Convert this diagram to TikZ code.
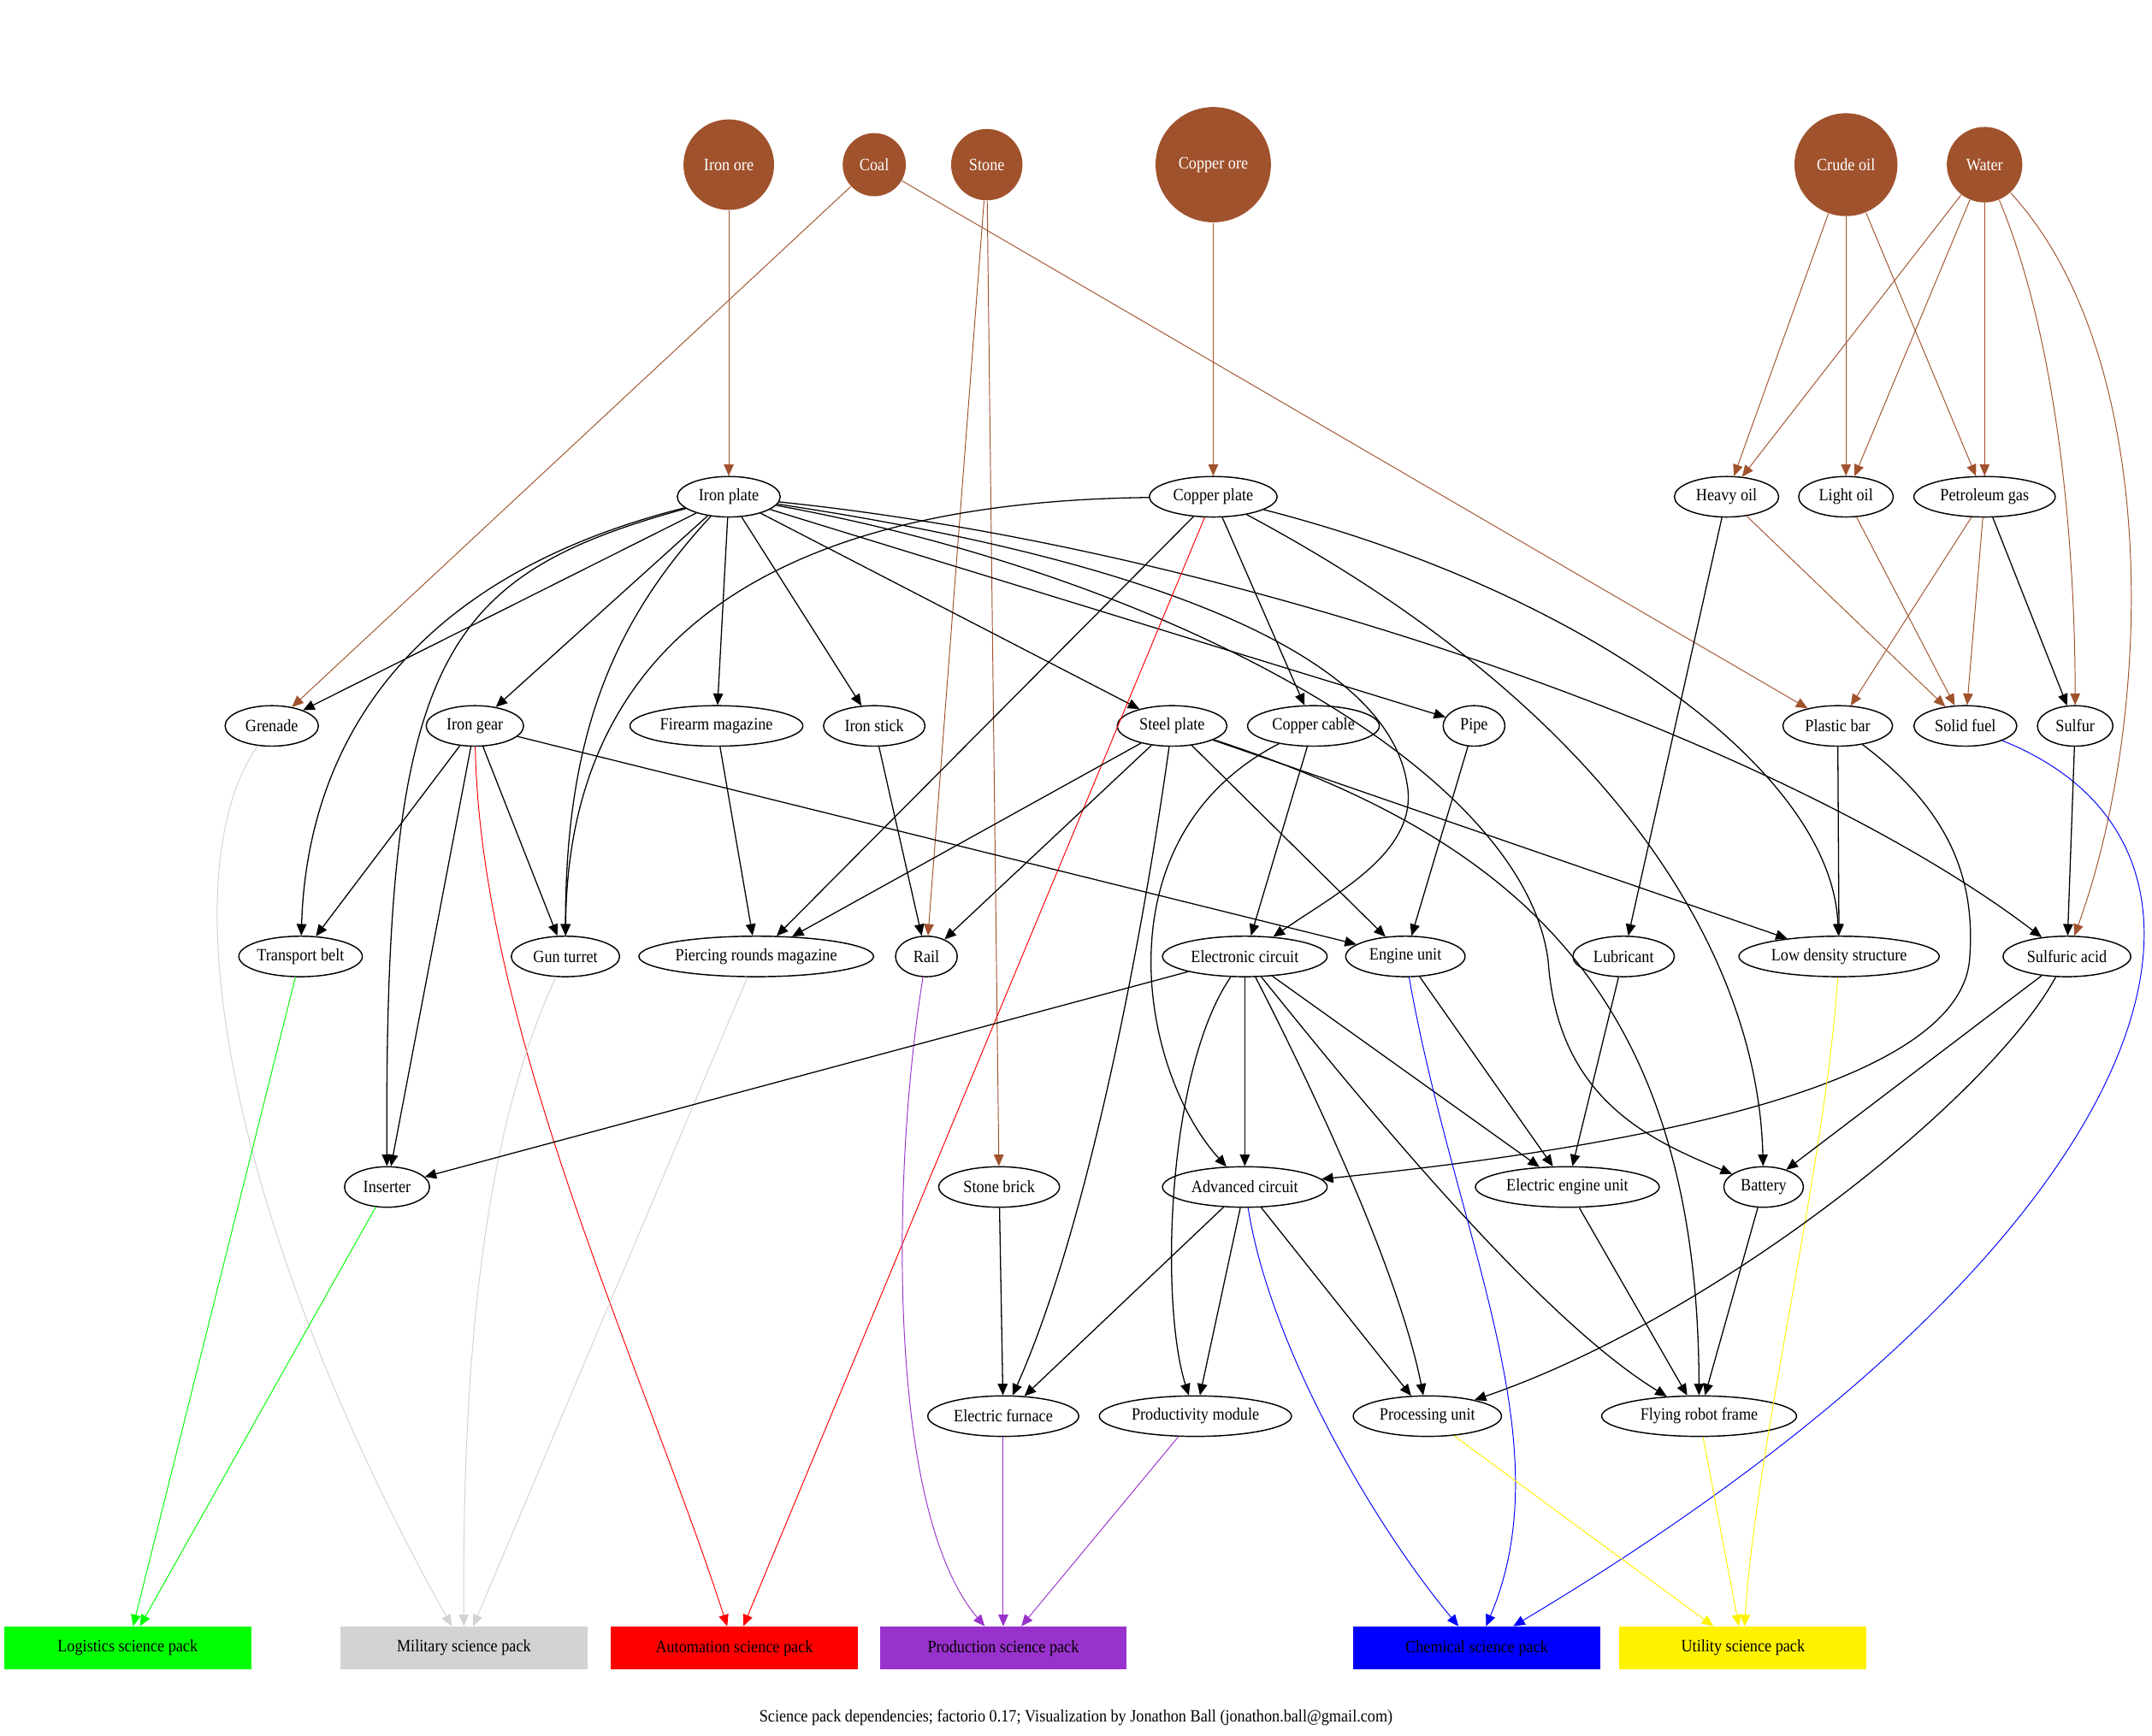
\documentclass[tikz,border=0pt]{standalone}
\usepackage{fontspec}
\setmainfont{Liberation Serif}[FakeStretch=0.9]
\usetikzlibrary{shapes.geometric}
\usetikzlibrary{arrows.meta}

\definecolor{sienna}{HTML}{A0522D}
\definecolor{orchid}{HTML}{9932CC}
\definecolor{lgray}{HTML}{D3D3D3}

\begin{document}
\begin{tikzpicture}[x=0.5pt, y=-0.5pt,
    every node/.style={font=\fontsize{6.3}{7.5}\selectfont},
    raw/.style={circle, fill=sienna, text=white, inner sep=0pt},
    item/.style={ellipse, draw=black, line width=0.45pt, minimum height=14.75pt, inner sep=0pt},
    pack/.style={rectangle, minimum width=90pt, minimum height=15.5pt, inner sep=0pt},
    >={Triangle[length=4.2pt, width=3.6pt]},
    link/.style={->, line width=0.4pt},
    ore/.style={link, sienna, line width=0.3pt},
    tint/.style={link, line width=0.3pt, #1}]

        \useasboundingbox (0,0) rectangle (1568,1265);

        % Row heights
        \def\yraw{120}
        \def\yone{362}
        \def\ytwo{529}
        \def\ythree{697}
        \def\yfour{865}
        \def\yfive{1032}
        \def\ypack{1201}

        % Raw resources
        \foreach \name/\x/\dia/\txt in {ironore/531/33pt/Iron ore, coal/637/23pt/Coal, stone/719/26pt/Stone, copperore/884/42pt/Copper ore, crudeoil/1345/37.5pt/Crude oil, water/1446/27.5pt/Water} {
          \node[raw, minimum size=\dia] (\name) at (\x, \yraw) {\txt};
        }

        % Plates and oils
        \foreach \name/\x/\w/\txt in {ironplate/531/37.5pt/Iron plate, copperplate/884/46.5pt/Copper plate, heavyoil/1258/38pt/Heavy oil, lightoil/1345/34.5pt/Light oil, petroleumgas/1446/51.5pt/Petroleum gas} {
          \node[item, minimum width=\w] (\name) at (\x, \yone) {\txt};
        }

        % Second row of intermediates
        \foreach \name/\x/\w/\txt in {grenade/198/34pt/Grenade, irongear/346/35.5pt/Iron gear, firearmmag/522/63pt/Firearm magazine, ironstick/637/37pt/Iron stick, steelplate/854/40pt/Steel plate, coppercable/957/48pt/Copper cable, pipe/1074/22.5pt/Pipe, plasticbar/1339/40pt/Plastic bar, solidfuel/1432/37.5pt/Solid fuel, sulfur/1512/27.5pt/Sulfur} {
          \node[item, minimum width=\w] (\name) at (\x, \ytwo) {\txt};
        }

        % Third row
        \foreach \name/\x/\w/\txt in {transportbelt/219/45pt/Transport belt, gunturret/412/39.5pt/Gun turret, piercingmag/551/85.5pt/Piercing rounds magazine, rail/675/22.5pt/Rail, electroniccircuit/907/60pt/Electronic circuit, engineunit/1024/43.5pt/Engine unit, lubricant/1183/37pt/Lubricant, lowdensity/1340/73pt/Low density structure, sulfuricacid/1506/46.5pt/Sulfuric acid} {
          \node[item, minimum width=\w] (\name) at (\x, \ythree) {\txt};
        }

        % Fourth row
        \foreach \name/\x/\w/\txt in {inserter/282/31pt/Inserter, stonebrick/728/44pt/Stone brick, advancedcircuit/907/60pt/Advanced circuit, electricengine/1142/67pt/Electric engine unit, battery/1285/29pt/Battery} {
          \node[item, minimum width=\w] (\name) at (\x, \yfour) {\txt};
        }

        % Fifth row
        \foreach \name/\x/\w/\txt in {electricfurnace/731/55pt/Electric furnace, productivity/871/70pt/Productivity module, processingunit/1040/54pt/Processing unit, flyingrobot/1238/71pt/Flying robot frame} {
          \node[item, minimum width=\w] (\name) at (\x, \yfive) {\txt};
        }

        % Science packs
        \foreach \name/\x/\col/\txt in {logistics/93/green/Logistics science pack, military/338/lgray/Military science pack, automation/535/red/Automation science pack, production/731/orchid/Production science pack, chemical/1076/blue/Chemical science pack, utility/1270/yellow/Utility science pack} {
          \node[pack, fill=\col] (\name) at (\x, \ypack) {\txt};
        }

        \node (caption) at (784,1252) {Science pack dependencies; factorio 0.17; Visualization by Jonathon Ball (jonathon.ball@gmail.com)};

        % Raw resources into plates and oils
        \draw[ore] (ironore) -- (ironplate);
        \draw[ore] (coal) -- (grenade);
        \draw[ore] (coal) -- (plasticbar);
        \draw[ore] (stone) -- (rail);
        \draw[ore] (stone) -- (stonebrick);
        \draw[ore] (copperore) -- (copperplate);
        \foreach \tgt in {heavyoil, lightoil, petroleumgas} {
          \draw[ore] (crudeoil) -- (\tgt);
          \draw[ore] (water) -- (\tgt);
        }
        \draw[ore] (water) .. controls (1500,250) and (1512,400) .. (sulfur);
        \draw[ore] (water) .. controls (1575,260) and (1570,520) .. (sulfuricacid);

        % Oil products
        \draw[ore] (heavyoil) -- (solidfuel);
        \draw[ore] (lightoil) -- (solidfuel);
        \draw[ore] (petroleumgas) -- (plasticbar);
        \draw[ore] (petroleumgas) -- (solidfuel);
        \draw[link] (petroleumgas) -- (sulfur);
        \draw[link] (heavyoil) -- (lubricant);

        % Iron plate
        \draw[link] (ironplate) -- (grenade);
        \draw[link] (ironplate) .. controls (300,420) and (224,540) .. (transportbelt);
        \draw[link] (ironplate) .. controls (320,420) and (280,480) .. (inserter);
        \draw[link] (ironplate) -- (irongear);
        \draw[link] (ironplate) .. controls (450,450) and (412,530) .. (gunturret);
        \draw[link] (ironplate) -- (firearmmag);
        \draw[link] (ironplate) -- (ironstick);
        \draw[link] (ironplate) -- (steelplate);
        \draw[link] (ironplate) -- (pipe);
        \draw[link] (ironplate) .. controls (850,410) and (1010,480) .. (1025,570) .. controls (1035,620) and (975,650) .. (electroniccircuit);
        \draw[link] (ironplate) .. controls (850,420) and (1110,560) .. (1128,700) .. controls (1135,800) and (1200,830) .. (battery);
        \draw[link] (ironplate) .. controls (900,400) and (1300,540) .. (sulfuricacid);

        % Copper plate
        \draw[link] (copperplate) .. controls (620,365) and (414,430) .. (gunturret);
        \draw[link] (copperplate) -- (piercingmag);
        \draw[tint=red] (copperplate) -- (automation);
        \draw[link] (copperplate) -- (coppercable);
        \draw[link] (copperplate) .. controls (1180,520) and (1281,700) .. (battery);
        \draw[link] (copperplate) .. controls (1150,430) and (1335,560) .. (lowdensity);

        % Iron gear
        \draw[link] (irongear) -- (transportbelt);
        \draw[link] (irongear) -- (inserter);
        \draw[link] (irongear) -- (gunturret);
        \draw[link] (irongear) -- (engineunit);
        \draw[tint=red] (irongear) .. controls (350,750) and (470,1000) .. (automation);

        \draw[link] (firearmmag) -- (piercingmag);
        \draw[link] (ironstick) -- (rail);

        % Steel plate
        \draw[link] (steelplate) -- (piercingmag);
        \draw[link] (steelplate) -- (rail);
        \draw[link] (steelplate) .. controls (830,700) and (790,900) .. (electricfurnace);
        \draw[link] (steelplate) -- (engineunit);
        \draw[link] (steelplate) .. controls (1100,610) and (1237,720) .. (flyingrobot);
        \draw[link] (steelplate) -- (lowdensity);

        % Copper cable, pipe, plastic, fuel, sulfur
        \draw[link] (coppercable) -- (electroniccircuit);
        \draw[link] (coppercable) .. controls (800,610) and (830,780) .. (advancedcircuit);
        \draw[link] (pipe) -- (engineunit);
        \draw[link] (plasticbar) -- (lowdensity);
        \draw[link] (plasticbar) .. controls (1420,590) and (1440,640) .. (1435,700) .. controls (1425,800) and (1150,840) .. (advancedcircuit);
        \draw[tint=blue] (solidfuel) .. controls (1660,620) and (1580,900) .. (chemical);
        \draw[link] (sulfur) -- (sulfuricacid);

        % Third row outputs
        \draw[tint=lgray] (grenade) .. controls (120,640) and (170,900) .. (military);
        \draw[tint=green] (transportbelt) -- (logistics);
        \draw[tint=lgray] (gunturret) .. controls (350,830) and (337,1000) .. (military);
        \draw[tint=lgray] (piercingmag) -- (military);
        \draw[tint=orchid] (rail) .. controls (650,850) and (645,1100) .. (production);

        % Electronic circuit
        \draw[link] (electroniccircuit) -- (inserter);
        \draw[link] (electroniccircuit) -- (advancedcircuit);
        \draw[link] (electroniccircuit) .. controls (850,780) and (845,950) .. (productivity);
        \draw[link] (electroniccircuit) .. controls (960,800) and (1020,930) .. (processingunit);
        \draw[link] (electroniccircuit) -- (electricengine);
        \draw[link] (electroniccircuit) .. controls (990,800) and (1120,960) .. (flyingrobot);

        % Engine unit, lubricant, low density, sulfuric acid
        \draw[link] (engineunit) -- (electricengine);
        \draw[tint=blue] (engineunit) .. controls (1060,900) and (1140,1050) .. (chemical);
        \draw[link] (lubricant) -- (electricengine);
        \draw[tint=yellow] (lowdensity) .. controls (1330,850) and (1280,1050) .. (utility);
        \draw[link] (sulfuricacid) -- (battery);
        \draw[link] (sulfuricacid) .. controls (1450,800) and (1250,960) .. (processingunit);

        % Fourth row
        \draw[tint=green] (inserter) -- (logistics);
        \draw[link] (stonebrick) -- (electricfurnace);
        \draw[link] (advancedcircuit) -- (electricfurnace);
        \draw[link] (advancedcircuit) -- (productivity);
        \draw[link] (advancedcircuit) -- (processingunit);
        \draw[tint=blue] (advancedcircuit) .. controls (925,980) and (1000,1110) .. (chemical);
        \draw[link] (electricengine) -- (flyingrobot);
        \draw[link] (battery) -- (flyingrobot);

        % Fifth row into packs
        \draw[tint=orchid] (electricfurnace) -- (production);
        \draw[tint=orchid] (productivity) -- (production);
        \draw[tint=yellow] (processingunit) -- (utility);
        \draw[tint=yellow] (flyingrobot) -- (utility);

      \end{tikzpicture}
\end{document}
